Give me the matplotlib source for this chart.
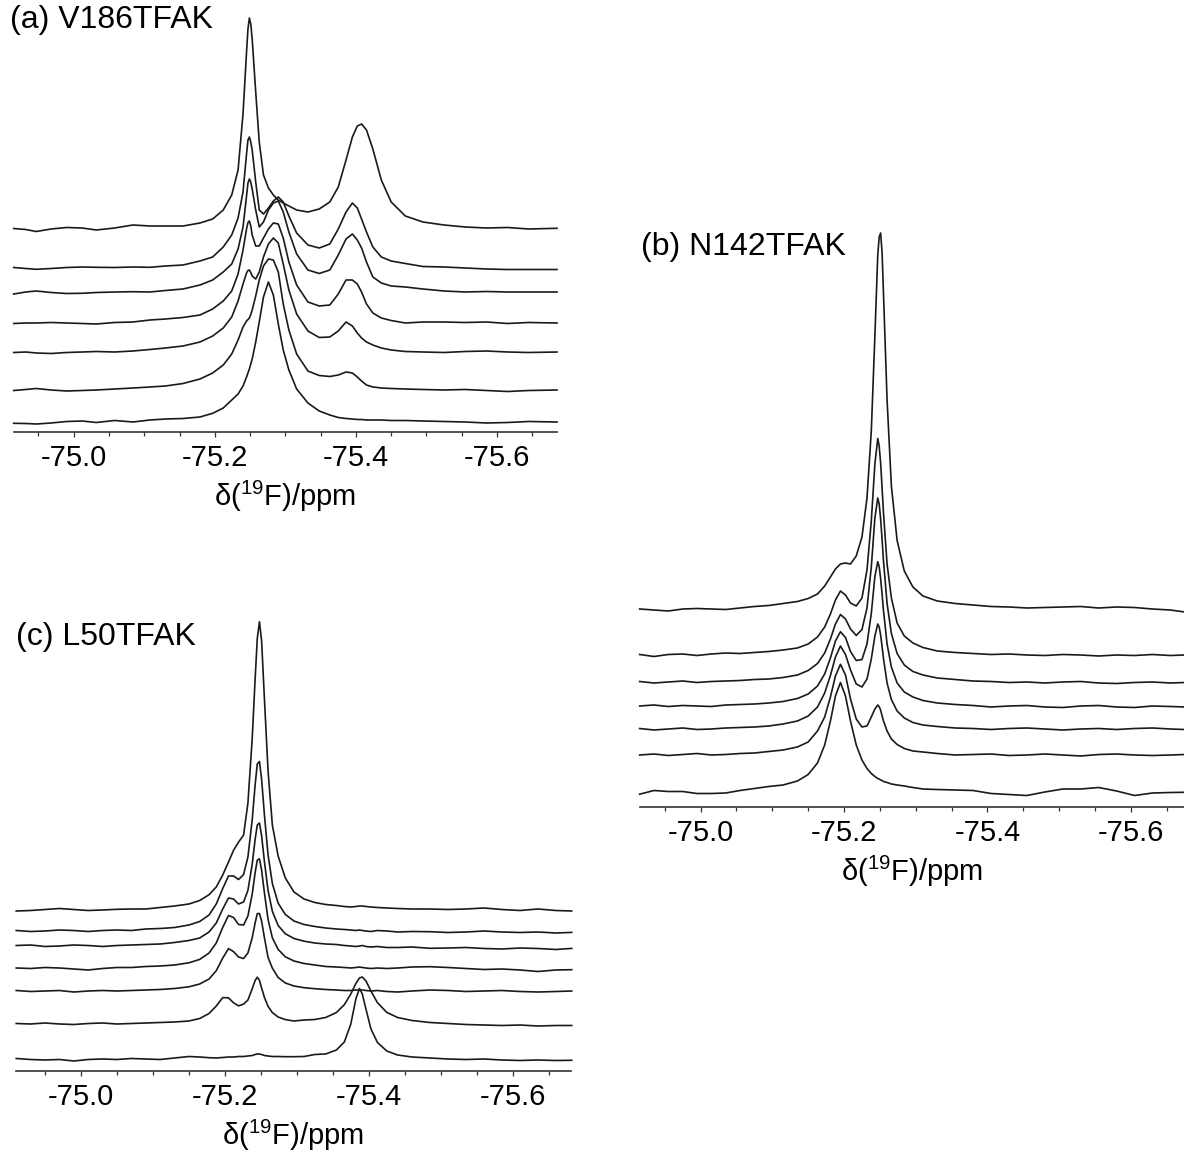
import matplotlib
matplotlib.use('Agg')
import matplotlib.pyplot as plt
from matplotlib.ticker import MultipleLocator, FormatStrFormatter

plt.rcParams['font.family'] = ['Liberation Sans', 'DejaVu Sans']
plt.rcParams['axes.unicode_minus'] = False

#-----------------------------------------------------------------------------
# stacked 19F spectra, intensities already offset (top trace first)

ppm_a = [-74.915, -74.932, -74.947, -74.968, -74.99, -75.012, -75.032, -75.058, -75.084, -75.108,
         -75.13, -75.155, -75.179, -75.197, -75.212, -75.224, -75.233, -75.24, -75.245, -75.247,
         -75.249, -75.251, -75.253, -75.258, -75.263, -75.269, -75.276, -75.283, -75.29, -75.297,
         -75.305, -75.316, -75.332, -75.348, -75.363, -75.375, -75.386, -75.395, -75.402, -75.408,
         -75.415, -75.424, -75.436, -75.45, -75.47, -75.495, -75.525, -75.555, -75.585, -75.615,
         -75.645, -75.685]

v186 = [
    [203.5, 202.5, 200.5, 203, 204.5, 204, 202, 204, 207, 206, 206, 206, 209, 213, 222, 237, 262, 318, 380, 403,
     414, 408, 393, 340, 290, 257, 244, 237, 232, 229, 226, 222, 220, 223, 230, 245, 272, 295, 306, 308,
     302, 283, 252, 230, 216, 210, 207, 205, 204, 204.5, 203, 203.7],
    [164.5, 163.5, 162.7, 163.5, 164.5, 165, 164.7, 164.5, 165, 164.7, 166, 167, 171, 175, 185, 197, 214, 240, 278, 292,
     295, 290, 282, 250, 222, 218, 224, 231, 235, 230, 216, 199, 187, 184, 188, 203, 220, 229, 224, 213,
     200, 185, 175, 171, 168.5, 165.5, 165, 164, 163, 162.5, 162.5, 162.5],
    [138, 140, 141, 139.5, 138.5, 138.7, 139.5, 140, 140.3, 140, 141.5, 143, 147, 152, 160, 168, 183, 205, 236, 249,
     253, 250, 243, 222, 205, 210, 222, 229, 231, 220, 200, 178, 162, 158.5, 162, 177, 193, 198, 192, 184,
     170, 155, 149, 146, 145, 143, 141, 140, 140.5, 140, 140, 140],
    [108.5, 109, 109, 109.5, 109, 108.5, 108, 109.5, 110, 112, 113, 114.5, 117, 123, 131, 141, 158, 182, 203, 209.5,
     211, 206, 197, 186, 186, 194, 203, 209, 208, 194, 170, 147, 130, 126, 127, 138, 152, 152, 148, 140,
     128, 119, 114, 111.5, 109, 110, 110, 109.5, 110, 108.5, 109.5, 109],
    [79.5, 80, 79, 78.5, 79.5, 80, 80.5, 80, 81, 82.5, 84, 86, 90, 96, 104, 115, 131, 148, 159, 161.5,
     162, 159.5, 156, 153, 160, 175, 188, 194, 189, 168, 142, 118, 101, 94.5, 95, 101, 110, 106, 99, 94,
     90, 87, 84, 82, 80.5, 80, 79.5, 80.5, 81, 80, 79.5, 80],
    [41.5, 42.5, 43.5, 42, 41, 41.5, 42, 43, 44, 45, 46, 48.5, 53, 59, 67, 78, 92, 105, 111, 112.5,
     114, 117.5, 122, 136, 152, 166, 173, 172, 160, 128, 102, 78, 61, 56.5, 55.5, 57, 60, 59, 55, 51,
     47, 45, 44, 43.5, 43, 42.5, 42, 42.5, 41.5, 40.5, 41.5, 42],
    [8.7, 8.5, 8, 9, 10.5, 11, 9.5, 11.5, 10, 12, 13, 13.5, 15, 18.7, 24, 32, 38, 46, 55, 59,
     63, 68, 73, 90, 110, 135, 150, 137, 108, 82, 62, 43, 29, 21, 17, 14.5, 13.5, 13, 12.5, 12.5,
     12, 12, 12, 11.5, 11.5, 11, 10.5, 10, 9, 9.5, 10.5, 10],
]

ppm_b = [-74.915, -74.935, -74.955, -74.975, -74.995, -75.015, -75.035, -75.055, -75.075, -75.095,
         -75.115, -75.135, -75.15, -75.163, -75.173, -75.181, -75.188, -75.195, -75.202, -75.209,
         -75.217, -75.225, -75.232, -75.238, -75.243, -75.247, -75.249, -75.251, -75.253, -75.255,
         -75.26, -75.266, -75.274, -75.284, -75.296, -75.31, -75.33, -75.355, -75.38, -75.405,
         -75.43, -75.455, -75.48, -75.505, -75.53, -75.555, -75.58, -75.605, -75.63, -75.655,
         -75.675]

n142 = [
    [198, 197, 196, 198, 198.5, 198, 197.5, 199, 200.5, 201.5, 203.5, 205.5, 208.5, 213, 221, 230, 238, 243, 244, 243,
     251, 270, 309, 376, 471, 552, 570, 574, 555, 513, 407, 321, 266.5, 236, 220, 211, 206, 203.5, 202, 200.5,
     200, 199, 199.5, 200, 200.5, 199, 200, 199.5, 198, 197, 195],
    [152.5, 150.5, 152.5, 153, 151.5, 153, 154, 153.5, 154.5, 155.5, 157, 159, 163, 170, 180, 193, 207, 216, 212, 204,
     201, 209, 237, 286, 343, 368.5, 361, 344, 319.5, 294, 243, 209, 184, 171, 164, 159.5, 156, 154.5, 153.5, 152.5,
     153, 152, 151.5, 152.5, 152, 151, 152, 151.5, 152.5, 151.5, 152],
    [125.5, 124, 125, 126, 124.5, 125.5, 126, 126.5, 127.5, 128, 129.5, 132, 136.5, 143.5, 154, 168, 183, 192.5, 188, 178,
     171.5, 177.5, 199, 240, 289, 309, 303, 288, 268, 246, 203.5, 173.5, 153.5, 142, 135.5, 132, 129, 127.5, 126, 125.5,
     124.5, 125, 124, 125, 125.5, 124, 123.5, 124.5, 125, 124, 124.5],
    [101, 102, 100.5, 101.5, 101, 100.5, 102, 102.5, 103, 104, 105.5, 108.5, 113, 121, 133, 149, 166, 175.3, 169.5, 155.5,
     146.5, 147.5, 163, 193.5, 230.5, 245.3, 240.4, 228.5, 213.2, 196.5, 163, 140, 124, 115, 110, 106.5, 104, 102.5, 101.5, 100,
     101, 101.5, 100, 99.5, 101, 101.5, 100, 99.5, 101, 100.5, 100],
    [78.5, 77, 78, 79, 77.5, 78, 79, 79.5, 80, 81, 83, 86, 91, 100, 114, 131.5, 150, 161, 152.5, 137,
     123, 120, 128, 148, 171, 183, 180, 172, 160.5, 148.5, 124, 107.5, 96, 89, 84.5, 82, 80.5, 79, 78.5, 77.5,
     78.5, 79, 78, 77, 78, 78.5, 77.5, 78.5, 79, 78, 77.5],
    [52, 53, 51.5, 52.5, 53.5, 52, 52.5, 53.5, 54, 55.5, 57, 60, 65, 76, 90, 110, 131, 142.7, 132, 108,
     88, 80, 81, 90, 98, 102, 100.2, 97, 91.3, 86, 76, 68, 62.5, 58.5, 56, 55, 53.5, 52, 52.5, 53,
     51.5, 52, 53, 52, 51, 52.5, 53, 52, 51.5, 52, 52.5],
    [12.8, 16.5, 15.5, 15.5, 13.5, 13.5, 14, 16.5, 18.5, 20.5, 22, 26, 32.5, 44, 62, 86, 111, 124.5, 111, 86,
     62, 47, 38.5, 33.5, 30.5, 28.5, 28, 27, 26.5, 25.5, 24.5, 23, 22, 21, 19.5, 18, 17.5, 17, 16.5, 13.5,
     12.5, 11.5, 15, 18, 18, 19.5, 16, 11.5, 14, 14.5, 14.7],
]

ppm_c = [-74.91, -74.93, -74.95, -74.97, -74.99, -75.01, -75.03, -75.05, -75.07, -75.09,
         -75.11, -75.13, -75.15, -75.165, -75.178, -75.188, -75.197, -75.205, -75.212, -75.219,
         -75.226, -75.232, -75.238, -75.242, -75.245, -75.248, -75.251, -75.255, -75.26, -75.266,
         -75.274, -75.284, -75.296, -75.31, -75.325, -75.34, -75.355, -75.366, -75.375, -75.382,
         -75.387, -75.391, -75.396, -75.403, -75.412, -75.425, -75.44, -75.46, -75.485, -75.51,
         -75.535, -75.56, -75.585, -75.61, -75.635, -75.66, -75.682]

l50 = [
    [160, 160.5, 161.5, 162.5, 161.5, 160.5, 161, 161.7, 162, 162, 163.5, 165, 167, 170.5, 176.3, 184, 196, 209, 220.6, 228.9,
     236, 268, 332.9, 391.7, 432.4, 449.3, 430.3, 371.3, 299.8, 245.7, 215, 193, 179, 172, 168.5, 166.5, 165.5, 164.5, 164, 164.5,
     165, 165, 164.5, 164, 163.5, 163, 162.5, 162, 162, 161.5, 162, 163, 161.5, 160.5, 162, 160.5, 160],
    [140.5, 139.5, 140, 141, 140.5, 139.5, 140.5, 141, 140.5, 142, 142.5, 143.5, 146, 149.5, 156, 167, 182.5, 195, 195, 191.5,
     196.5, 214, 251.5, 286, 307, 309.5, 292, 255.5, 216, 187.4, 167.9, 156.5, 150, 146.5, 144.5, 143, 142, 141.5, 141, 140.5,
     141, 140.5, 140, 139.5, 140.5, 140, 139, 139.5, 139.3, 138.5, 139, 140, 139, 138.5, 139, 138, 138.6],
    [125.5, 126, 124.5, 125, 126, 125.5, 124.5, 125.5, 126, 126.5, 127, 128.5, 130.5, 133, 139, 148, 162, 173, 172, 167,
     169, 180.6, 207, 231.5, 246, 248, 235.4, 209, 180.5, 159.6, 145.5, 137.2, 132.5, 129.8, 128, 127, 126.5, 125.5, 125, 124.5,
     125, 125.5, 124.5, 124, 124.5, 123.5, 123.5, 124, 122.7, 123, 123.5, 122.5, 122, 123, 122.5, 121.5, 122.6],
    [103, 102.5, 103.5, 103, 102, 101, 102.5, 103.5, 103.5, 104.5, 105, 106, 108.2, 111.6, 118, 128, 143.6, 155.5, 153.5, 146.5,
     146, 155, 177, 198.4, 210.8, 212.2, 201, 177.7, 151.6, 133.1, 121.6, 114.2, 110, 107.5, 106, 104.5, 104, 103.5, 103, 103.5,
     104, 103.5, 103, 102.5, 103, 102.5, 103, 104, 104.3, 103.5, 102.5, 101.5, 102, 101, 99.5, 101, 101.3],
    [80.5, 79.5, 80, 80.5, 79, 80, 80.5, 80, 80.5, 81, 81.5, 82.5, 84.2, 87, 92, 100.3, 112.9, 122.4, 119.4, 114,
     112.5, 118, 133.4, 148, 157.4, 157.5, 150, 133, 113.5, 102.8, 93.5, 88, 85, 83.3, 82.3, 81.5, 81, 80.5, 80.5, 81,
     81, 81, 80.5, 80, 80.5, 79.5, 79, 80, 81, 80.5, 79.5, 80, 80.5, 79.5, 79, 79.5, 80],
    [47.5, 47, 48, 47, 46.5, 47.5, 48, 47, 47.5, 48, 48.5, 49, 50, 52.5, 57.5, 65, 73.4, 73.2, 68.2, 65.1,
     66.9, 71, 82.3, 90.5, 93.8, 90.7, 83, 73.5, 64.6, 58.4, 54, 51.4, 50, 51, 51.5, 53.5, 58.5, 66.3, 77, 87.5,
     93, 94, 90.1, 80, 68.3, 58.6, 53.5, 50.5, 48.5, 47.5, 46.5, 46, 45.5, 46, 45, 45.5, 45.5],
    [12.5, 11.5, 11, 11.5, 10, 11.5, 12, 11.5, 12.5, 12, 11.5, 13, 14.5, 14, 13.3, 13, 13.5, 14, 14, 14.5,
     14.5, 15, 15.5, 16.5, 17, 17, 16.5, 15.5, 15, 14.5, 14.5, 14.3, 14.3, 14.5, 16.5, 17, 21, 29, 47, 72,
     82.5, 77, 62, 42, 28.5, 20, 16, 14, 13, 12, 11.5, 12, 11, 10.5, 11, 10.5, 10.7],
]

#-----------------------------------------------------------------------------

W, H = 1184, 1155
fig = plt.figure(figsize=(W / 100, H / 100), dpi=100)

def px_rect(x0, x1, ytop, ybot):
    return [x0 / W, 1 - ybot / H, (x1 - x0) / W, (ybot - ytop) / H]

'''one stacked panel, y in pixels above the axis line'''
def panel(rect, ppm, traces, xlim, ytop):
    ax = fig.add_axes(rect)
    for y in traces:
        ax.plot(ppm, y, color='#1a1a1a', lw=1.2, solid_joinstyle='round', clip_on=False)
    ax.set_xlim(xlim)
    ax.set_ylim(0, ytop)
    for s in ['top', 'right', 'left']:
        ax.spines[s].set_visible(False)
    ax.spines['bottom'].set_linewidth(1.2)
    ax.spines['bottom'].set_color('#333333')
    ax.set_yticks([])
    ax.xaxis.set_major_locator(MultipleLocator(0.2))
    ax.xaxis.set_minor_locator(MultipleLocator(0.05))
    ax.xaxis.set_major_formatter(FormatStrFormatter('%.1f'))
    ax.tick_params(axis='x', which='major', direction='out', length=3.8, width=0.9,
                   color='#333333', labelsize=21, pad=5)
    ax.tick_params(axis='x', which='minor', direction='out', length=2.8, width=0.9, color='#333333')
    ax.set_xlabel(r'δ($^{\mathregular{19}}$F)/ppm', fontsize=21, labelpad=5)
    ax.patch.set_alpha(0)
    return ax

panel(px_rect(13.7, 557, 0, 432), ppm_a, v186, (-74.915, -75.685), 432)
panel(px_rect(640, 1184, 220, 807), ppm_b, n142, (-74.9155, -75.674), 587)
panel(px_rect(15.5, 571, 600, 1071), ppm_c, l50, (-74.909, -75.681), 471)

fig.text(10 / W, 1 - 20 / H, '(a) V186TFAK', fontsize=23, ha='left', va='center')
fig.text(641 / W, 1 - 247 / H, '(b) N142TFAK', fontsize=23, ha='left', va='center')
fig.text(16 / W, 1 - 637 / H, '(c) L50TFAK', fontsize=23, ha='left', va='center')

fig.savefig('out.png', dpi=100)
